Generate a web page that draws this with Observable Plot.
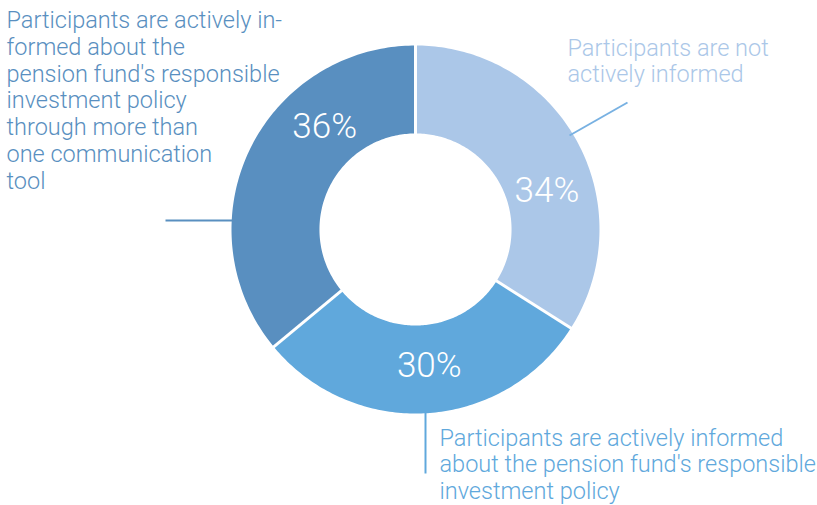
<!DOCTYPE html>
<html><head><meta charset="utf-8">
<script src="https://cdn.jsdelivr.net/npm/d3@7"></script>
<script src="https://cdn.jsdelivr.net/npm/@observablehq/plot@0.6"></script>
<style>body{margin:0;background:#fff;} #chart svg{display:block;}</style>
</head><body><div id="chart"></div>
<script>
// ---- data ----
const categories = [
  "Participants are not actively informed",
  "Participants are actively informed about the pension fund's responsible investment policy",
  "Participants are actively informed about the pension fund's responsible investment policy through more than one communication tool"
];
const shares = [34, 30, 36];
const pctLabels = ["34%", "30%", "36%"];
const annotationText = [
  "Participants are not\nactively informed",
  "Participants are actively informed\nabout the pension fund's responsible\ninvestment policy",
  "Participants are actively in-\nformed about the\npension fund's responsible\ninvestment policy\nthrough more than\none communication\ntool"
];
const colors = ["#abc7e8", "#60a8dc", "#598fc0"];

// ---- layout ----
const W = 817, H = 505, CX = 415, CY = 229, R = 184;
const INNER = 0.522, LABEL_R = 0.745;
const labelAt = [0.60, 0.48, 0.68];
const u = (px, py) => [(px - CX) / R, (CY - py) / R];
const polar = (r, a) => [r * Math.sin(a), r * Math.cos(a)];

const total = d3.sum(shares);
let acc = 0;
const slices = shares.map((v, i) => {
  const a0 = acc / total * 2 * Math.PI; acc += v;
  const a1 = acc / total * 2 * Math.PI;
  return {i, a0, a1, cat: categories[i], pct: pctLabels[i]};
});
const ring = slices.flatMap(s => {
  const n = 120, pts = [];
  for (let k = 0; k <= n; k++) { const [x, y] = polar(1, s.a0 + (s.a1 - s.a0) * k / n); pts.push({cat: s.cat, x, y}); }
  for (let k = n; k >= 0; k--) { const [x, y] = polar(INNER, s.a0 + (s.a1 - s.a0) * k / n); pts.push({cat: s.cat, x, y}); }
  return pts;
});
const seps = slices.map(s => {
  const [x1, y1] = polar(INNER - 0.03, s.a0), [x2, y2] = polar(1.03, s.a0);
  return {x1, y1, x2, y2};
});
const pct = slices.map((s, i) => {
  const [x, y] = polar(LABEL_R, s.a0 + (s.a1 - s.a0) * labelAt[i]);
  return {x, y, text: s.pct};
});
const annPos = [[567, 81.7], [439, 498.5], [6, 188]];
const ann = categories.map((c, i) => {
  const [x, y] = u(...annPos[i]);
  return {cat: c, x, y, text: annotationText[i]};
});
const leaderPx = [[[569, 135], [627, 102]], [[425, 411], [425, 473]], [[165, 220], [232, 220]]];
const leaders = categories.map((c, i) => {
  const [x1, y1] = u(...leaderPx[i][0]), [x2, y2] = u(...leaderPx[i][1]);
  return {cat: c, x1, y1, x2, y2};
});

const chart = Plot.plot({
  width: W, height: H, margin: 0,
  x: {domain: [-CX / R, (W - CX) / R], range: [0, W], axis: null},
  y: {domain: [CY / R, -(H - CY) / R], range: [0, H], axis: null},
  color: {domain: categories, range: colors},
  style: {fontFamily: "Roboto, sans-serif", background: "white", overflow: "visible"},
  marks: [
    Plot.line(ring, {x: "x", y: "y", z: "cat", fill: "cat", stroke: "none", curve: "linear-closed"}),
    Plot.link(seps, {x1: "x1", y1: "y1", x2: "x2", y2: "y2", stroke: "white", strokeWidth: 3}),
    Plot.text(pct, {x: "x", y: "y", text: "text", fill: "white", fontSize: 35, fontWeight: 300}),
    Plot.link(leaders.slice(0, 1), {x1: "x1", y1: "y1", x2: "x2", y2: "y2", stroke: "#78b1e2", strokeWidth: 2}),
    Plot.link(leaders.slice(1), {x1: "x1", y1: "y1", x2: "x2", y2: "y2", stroke: "cat", strokeWidth: 2}),
    Plot.text(ann, {x: "x", y: "y", text: "text", fill: "cat", textAnchor: "start", lineAnchor: "bottom",
      lineHeight: 1.136, fontSize: 23.5, fontWeight: 300})
  ]
});
document.getElementById("chart").append(chart);
</script>
</body></html>
